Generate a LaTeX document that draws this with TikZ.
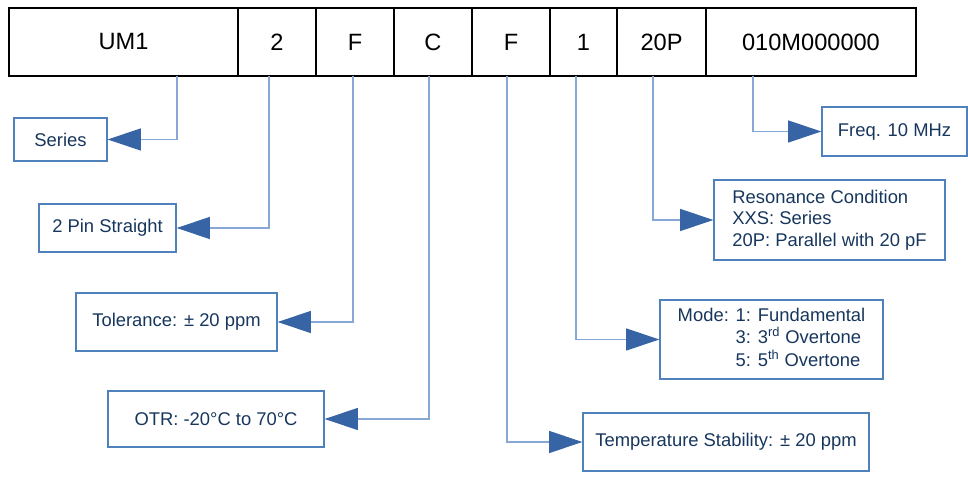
\documentclass[tikz,border=0pt]{standalone}
\usepackage{fontspec}
\setmainfont{Liberation Sans}
\usetikzlibrary{positioning}
\usetikzlibrary{arrows.meta}
\definecolor{textblue}{RGB}{23, 54, 93}
\definecolor{boxblue}{RGB}{79, 129, 189}
\definecolor{lineblue}{RGB}{135, 168, 212}
\definecolor{tipblue}{RGB}{54, 100, 164}
\tikzset{
  cell/.style = {shape=rectangle, draw=black, line width=1.3pt,
                 outer sep=0pt, inner sep=0pt, minimum height=51pt,
                 font=\fontsize{17.7}{21}\selectfont},
  info/.style = {shape=rectangle, draw=boxblue, line width=0.9pt,
                 inner sep=0pt, align=left, text=textblue,
                 font=\fontsize{13.8}{16.2}\selectfont},
  link/.style = {draw=lineblue, line width=1pt,
                 -{Triangle[length=25pt, width=16.5pt, color=tipblue]}}
}

\begin{document}
\begin{tikzpicture}[x=0.75pt, y=-0.75pt]
  \useasboundingbox (0,0) rectangle (968,484);
  % part number
  \node [cell, minimum width=171.75pt, anchor=west] (cseries) at (9,42) {UM1};
  \node [cell, minimum width=58.5pt] (cpins) [right=0pt of cseries] {2};
  \node [cell, minimum width=58.5pt] (ctol) [right=0pt of cpins] {F};
  \node [cell, minimum width=58.5pt] (cotr) [right=0pt of ctol] {C};
  \node [cell, minimum width=58.5pt] (cstab) [right=0pt of cotr] {F};
  \node [cell, minimum width=50.25pt] (cmode) [right=0pt of cstab] {1};
  \node [cell, minimum width=66.75pt] (cload) [right=0pt of cmode] {20P};
  \node [cell, minimum width=157.5pt] (cfreq) [right=0pt of cload] {010M000000};
  % descriptions
  \node [info, minimum width=69.75pt, minimum height=32.25pt] (series) at (60.5,139.5) {Series};
  \node [info, minimum width=102.75pt, minimum height=36pt] (pins) at (107.5,228) {2 Pin Straight};
  \node [info, minimum width=150.75pt, minimum height=43.5pt] (tol) at (176.5,322) {Tolerance: ± 20 ppm};
  \node [info, minimum width=162pt, minimum height=42pt] (otr) at (216,419) {OTR: -20°C to 70°C};
  \node [info, minimum width=214.5pt, minimum height=43.5pt] (stab) at (726,442) {Temperature Stability: ± 20 ppm};
  \node [info, minimum width=167.25pt, minimum height=59.25pt] (mode) at (771.5,339.5)
    {\begin{tabular}{@{}l@{ }l@{}}
       Mode: & 1: Fundamental\\
             & 3: 3\textsuperscript{rd} Overtone\\
             & 5: 5\textsuperscript{th} Overtone
     \end{tabular}};
  \node [info, minimum width=173.25pt, minimum height=60pt] (load) at (829.5,220)
    {Resonance Condition\\XXS: Series\\20P: Parallel with 20 pF};
  \node [info, minimum width=108.75pt, minimum height=36.75pt] (freq) at (894.5,131.5) {Freq. 10 MHz};
  % taps under the cells
  \coordinate (tseries) at (177,76);
  \coordinate (tpins) at (269,76);
  \coordinate (ttol) at (353,76);
  \coordinate (totr) at (429,76);
  \coordinate (tstab) at (507,76);
  \coordinate (tmode) at (576,76);
  \coordinate (tload) at (653,76);
  \coordinate (tfreq) at (753,76);
  \path[link] (tseries) |- (series.east);
  \path[link] (tpins) |- (pins.east);
  \path[link] (ttol) |- (tol.east);
  \path[link] (totr) |- (otr.east);
  \path[link] (tstab) |- (stab.west);
  \path[link] (tmode) |- (mode.west);
  \path[link] (tload) |- (load.west);
  \path[link] (tfreq) |- (freq.west);
\end{tikzpicture}
\end{document}
